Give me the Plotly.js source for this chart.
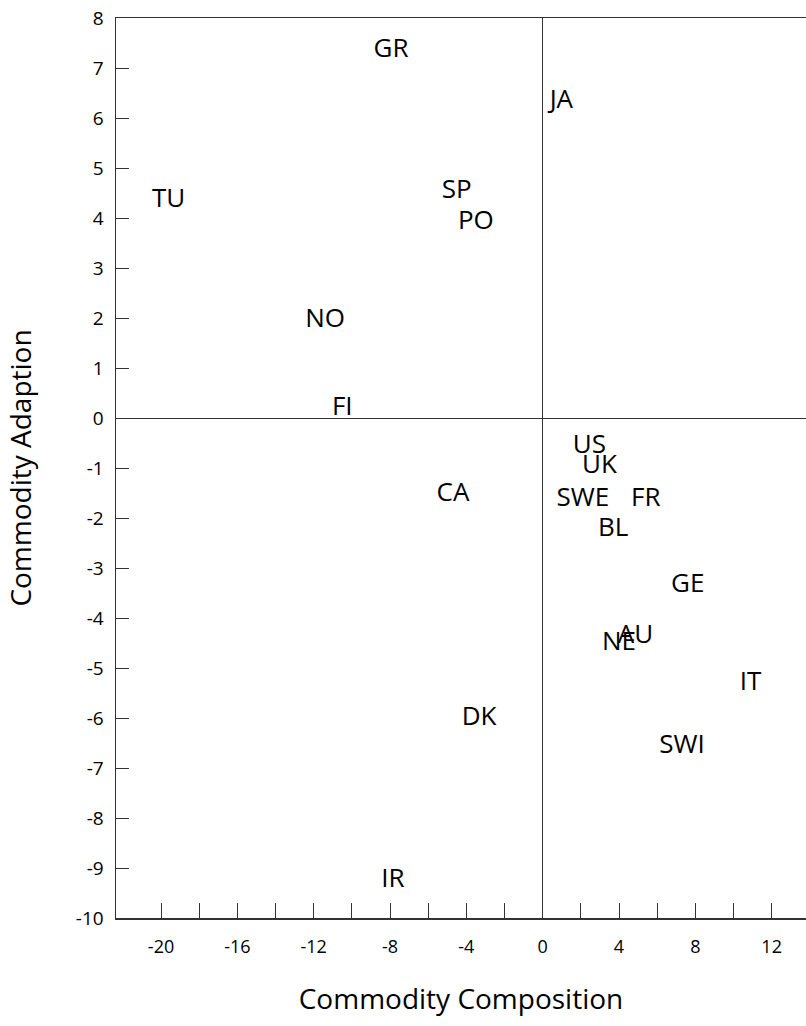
<!DOCTYPE html>
<html>
<head>
<meta charset="utf-8">
<script src="https://cdn.plot.ly/plotly-3.0.1.min.js"></script>
<style>html,body{margin:0;padding:0;background:#fff;}#chart{width:806px;height:1026px;}</style>
</head>
<body>
<div id="chart"></div>
<script>
const countries = ["GR","JA","TU","SP","PO","NO","FI","US","UK","SWE","FR","BL","CA","GE","AU","NE","IT","DK","SWI","IR"];
const composition = [-7.95, 0.98, -19.6, -4.5, -3.5, -11.4, -10.5, 2.45, 2.98, 2.1, 5.4, 3.7, -4.7, 7.6, 4.86, 4.0, 10.9, -3.33, 7.3, -7.85];
const adaption = [7.36, 6.34, 4.36, 4.54, 3.92, 1.96, 0.2, -0.56, -0.96, -1.62, -1.62, -2.22, -1.52, -3.34, -4.36, -4.5, -5.3, -6.0, -6.56, -9.24];
const xTickVals = [-20,-18,-16,-14,-12,-10,-8,-6,-4,-2,0,2,4,6,8,10,12];
const xTickText = ["-20","","-16","","-12","","-8","","-4","","0","","4","","8","","12"];
const yTickVals = [-10,-9,-8,-7,-6,-5,-4,-3,-2,-1,0,1,2,3,4,5,6,7,8];
const yTickText = ["-10","-9","-8","-7","-6","-5","-4","-3","-2","-1","0","1","2","3","4","5","6","7","8"];

const fontFam = "Open Sans, sans-serif";
const trace = {
  x: composition, y: adaption, text: countries,
  mode: "text", type: "scatter",
  textposition: "middle center",
  textfont: {family: fontFam, size: 26, color: "#000"},
  hoverinfo: "none"
};
const layout = {
  width: 806, height: 1026,
  margin: {l: 116, r: 0, t: 18, b: 108},
  paper_bgcolor: "#fff", plot_bgcolor: "#fff",
  showlegend: false,
  xaxis: {
    range: [-22.36, 13.8], tickvals: xTickVals, ticktext: xTickText,
    ticks: "inside", ticklen: 15, tickcolor: "#333", tickwidth: 1,
    showgrid: false, zeroline: true, zerolinecolor: "#333", zerolinewidth: 1,
    showline: true, linecolor: "#333", linewidth: 1.5, mirror: true,
    tickfont: {family: fontFam, size: 18, color: "#000"},
    ticklabelstandoff: 12,
    title: {text: "Commodity Composition", font: {family: fontFam, size: 28, color: "#000"}, standoff: 32}
  },
  yaxis: {
    range: [-10, 8], tickvals: yTickVals, ticktext: yTickText,
    ticks: "inside", ticklen: 13, tickcolor: "#333", tickwidth: 1,
    showgrid: false, zeroline: true, zerolinecolor: "#333", zerolinewidth: 1,
    showline: true, linecolor: "#333", linewidth: 1.5,
    tickfont: {family: fontFam, size: 19, color: "#000"},
    ticklabelstandoff: 7,
    title: {text: "Commodity Adaption", font: {family: fontFam, size: 28, color: "#000"}, standoff: 36}
  }
};
Plotly.newPlot("chart", [trace], layout, {staticPlot: true});
</script>
</body>
</html>
